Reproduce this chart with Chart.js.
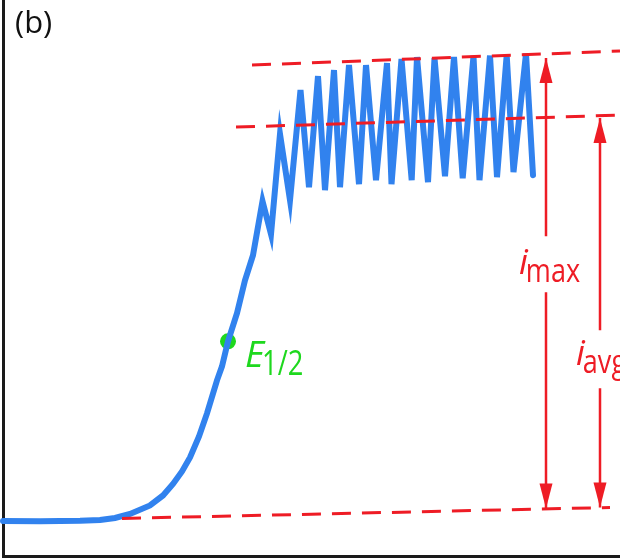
<!DOCTYPE html>
<html><head><meta charset="utf-8">
<script src="https://cdn.jsdelivr.net/npm/chart.js@4.4.1/dist/chart.umd.min.js"></script>
<style>html,body{margin:0;padding:0;background:#fff;}#wrap{width:620px;height:560px;position:relative;}</style>
</head><body><div id="wrap"><canvas id="c"></canvas></div>
<script>
// Values (arbitrary units: potential →, current ↑)
const potential = [3, 40, 80, 100, 115, 130, 150, 163, 173, 182, 190, 199, 207, 217, 222, 228, 237, 245, 253,
  262.5, 271, 280, 290, 300.5, 309, 318, 325, 334, 340, 349, 359, 366, 376, 387, 391.5, 401.5, 411.7, 417, 428,
  434.5, 445, 454, 462.7, 473.5, 479.5, 490, 497, 506.7, 513.5, 526, 533];
const current = [35.5, 35.2, 35.7, 36.5, 38.5, 42.5, 51, 61, 72.5, 85, 99, 120, 143, 176, 190, 215, 243, 276, 301,
  355, 322, 422, 356, 466, 369, 480, 366, 486, 369, 491, 372, 491, 376, 493, 372, 497, 376, 499, 374,
  498, 380, 499, 378, 500, 376, 500.5, 379, 501, 384, 502.5, 381];

const halfWavePotential = [228];
const halfWaveCurrent = [215];

const maxLineX = [252, 620];
const maxLineY = [491, 505];
const avgLineX = [236, 620];
const avgLineY = [429, 441];
const baseLineX = [122, 610];
const baseLineY = [38, 49];

const iMaxX = [546, 546, 546, 546, 546];
const iMaxY = [498, 320, null, 264, 48];
const iAvgX = [600, 600, 600, 600, 600];
const iAvgY = [438, 226, null, 168, 49];

const RED = '#EE1C25', BLUE = '#3182EE', GREEN = '#1ED81E';

function pts(xs, ys) { return xs.map((x, i) => ({ x: x, y: ys[i] })); }

const arrowPlugin = {
  id: 'arrowHeads',
  afterDatasetsDraw(chart) {
    const ctx = chart.ctx;
    chart.data.datasets.forEach((ds, i) => {
      if (!ds.arrows) return;
      const meta = chart.getDatasetMeta(i);
      const els = meta.data.filter((e, k) => ds.data[k].y !== null);
      const top = els[0], bot = els[els.length - 1];
      ctx.save();
      ctx.fillStyle = ds.borderColor;
      const w = 6.5, h = 25;
      ctx.beginPath();
      ctx.moveTo(top.x, top.y); ctx.lineTo(top.x - w, top.y + h); ctx.lineTo(top.x + w, top.y + h); ctx.closePath(); ctx.fill();
      ctx.beginPath();
      ctx.moveTo(bot.x, bot.y); ctx.lineTo(bot.x - w, bot.y - h); ctx.lineTo(bot.x + w, bot.y - h); ctx.closePath(); ctx.fill();
      ctx.restore();
    });
  }
};

const labelTexts = [
  { main: '(b)', sub: '', x: 15, y: 523, color: '#111', italic: false, size: 31, sx: 1.0 },
  { main: 'i', sub: 'max', x: 519, y: 282.5, color: RED, italic: true, size: 35, sx: 0.82 },
  { main: 'i', sub: 'avg', x: 576, y: 191, color: RED, italic: true, size: 35, sx: 0.82 },
  { main: 'E', sub: '1/2', x: 245, y: 189.3, color: GREEN, italic: true, size: 37, sx: 0.78 }
];

const textPlugin = {
  id: 'texts',
  afterDraw(chart) {
    const ctx = chart.ctx, xs = chart.scales.x, ys = chart.scales.y;
    labelTexts.forEach(t => {
      const px = xs.getPixelForValue(t.x), py = ys.getPixelForValue(t.y);
      ctx.save();
      ctx.fillStyle = t.color;
      ctx.textBaseline = 'alphabetic';
      ctx.font = (t.italic ? 'italic ' : '') + t.size + 'px "Open Sans", sans-serif';
      ctx.fillText(t.main, px, py);
      const mw = ctx.measureText(t.main).width;
      if (t.sub) {
        ctx.font = (t.size - 2) + 'px "Open Sans", sans-serif';
        ctx.translate(px + mw - (t.italic ? 2 : 0), py + 8);
        ctx.scale(t.sx, 1);
        ctx.fillText(t.sub, 0, 0);
      }
      ctx.restore();
    });
  }
};

const dashed = (xs, ys) => ({
  data: pts(xs, ys), borderColor: RED, borderWidth: 3, borderDash: [19, 11],
  pointRadius: 0, fill: false, tension: 0, clip: false
});

new Chart(document.getElementById('c'), {
  type: 'line',
  data: {
    datasets: [
      dashed(maxLineX, maxLineY),
      dashed(avgLineX, avgLineY),
      dashed(baseLineX, baseLineY),
      { data: pts(iMaxX, iMaxY), borderColor: RED, borderWidth: 2.5, pointRadius: 0, spanGaps: false, arrows: true, clip: false },
      { data: pts(iAvgX, iAvgY), borderColor: RED, borderWidth: 2.5, pointRadius: 0, spanGaps: false, arrows: true, clip: false },
      { data: pts(potential, current), borderColor: BLUE, borderWidth: 6, pointRadius: 0, tension: 0,
        borderJoinStyle: 'miter', borderCapStyle: 'round', clip: false },
      { data: pts(halfWavePotential, halfWaveCurrent), showLine: false, pointRadius: 8, pointHoverRadius: 8,
        pointBackgroundColor: GREEN, pointBorderColor: GREEN, pointBorderWidth: 0, clip: false }
    ]
  },
  options: {
    responsive: true, maintainAspectRatio: false, animation: false, devicePixelRatio: 1,
    layout: { autoPadding: false, padding: { left: 3, right: 0, top: 0, bottom: 3.5 } },
    plugins: { legend: { display: false }, tooltip: { enabled: false } },
    scales: {
      x: { type: 'linear', min: 3, max: 620,
        afterFit: s => { s.height = 0; },
        grid: { display: false, drawTicks: false }, ticks: { display: false },
        border: { display: true, color: '#1a1a1a', width: 3 } },
      y: { type: 'linear', min: 0, max: 556,
        afterFit: s => { s.width = 0; },
        grid: { display: false, drawTicks: false }, ticks: { display: false },
        border: { display: true, color: '#1a1a1a', width: 3 } }
    }
  },
  plugins: [arrowPlugin, textPlugin]
});
</script></body></html>
